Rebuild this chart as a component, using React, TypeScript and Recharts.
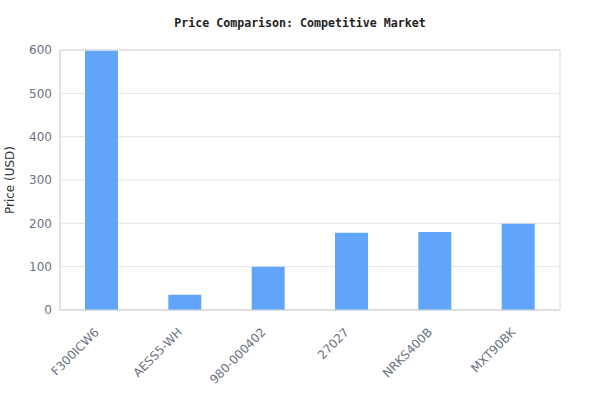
import React from 'react';
import { BarChart, Bar, XAxis, YAxis, CartesianGrid, ReferenceArea } from 'recharts';

const models = ['F300ICW6', 'AESS5-WH', '980-000402', '27027', 'NRKS400B', 'MXT90BK'];
const prices = [598, 35, 100, 178, 180, 199];
const yTicks = [0, 100, 200, 300, 400, 500, 600];

const data = models.map((model, i) => ({ model, price: prices[i] }));

const tickStyle = { fill: '#6b7280', fontSize: 12, fontFamily: 'DejaVu Sans' };

// rotated category label, anchored at its end just below-left of the tick
const SlantTick = ({ x, y, payload }: any) => (
    <g transform={`translate(${x - 5},${y + 12})`}>
        <text
            x={0}
            y={0}
            dy="0.35em"
            textAnchor="end"
            transform="rotate(-45)"
            fill={tickStyle.fill}
            fontSize={tickStyle.fontSize}
            fontFamily={tickStyle.fontFamily}
        >
            {payload.value}
        </text>
    </g>
);

export default function App() {
    return (
        <div style={{ position: 'absolute', left: 0, top: 0, width: 600, height: 420, background: '#fff' }}>
            <div
                style={{
                    position: 'absolute',
                    top: 16,
                    left: 0,
                    width: 600,
                    textAlign: 'center',
                    fontFamily: 'DejaVu Sans Mono',
                    fontWeight: 'bold',
                    fontSize: 11.6,
                    lineHeight: '14px',
                    color: '#222',
                }}
            >
                Price Comparison: Competitive Market
            </div>
            <BarChart
                width={600}
                height={420}
                data={data}
                margin={{ top: 50, right: 40, bottom: 0, left: 0 }}
                barCategoryGap="30%"
            >
                <CartesianGrid horizontal={true} vertical={false} stroke="#e5e5e5" />
                <XAxis
                    dataKey="model"
                    interval={0}
                    tick={<SlantTick />}
                    tickLine={false}
                    axisLine={{ stroke: '#d9d9d9' }}
                    height={110}
                />
                <YAxis
                    width={60}
                    domain={[0, 600]}
                    ticks={yTicks}
                    tick={tickStyle}
                    tickLine={false}
                    axisLine={{ stroke: '#d9d9d9' }}
                    label={{
                        value: 'Price (USD)',
                        angle: -90,
                        position: 'insideLeft',
                        offset: 10,
                        style: { fill: '#333', fontSize: 12, fontFamily: 'DejaVu Sans', textAnchor: 'middle' },
                    }}
                />
                <ReferenceArea y1={0} y2={600} fill="none" stroke="#d9d9d9" />
                <Bar dataKey="price" fill="#60a5fa" isAnimationActive={false} />
            </BarChart>
        </div>
    );
}
